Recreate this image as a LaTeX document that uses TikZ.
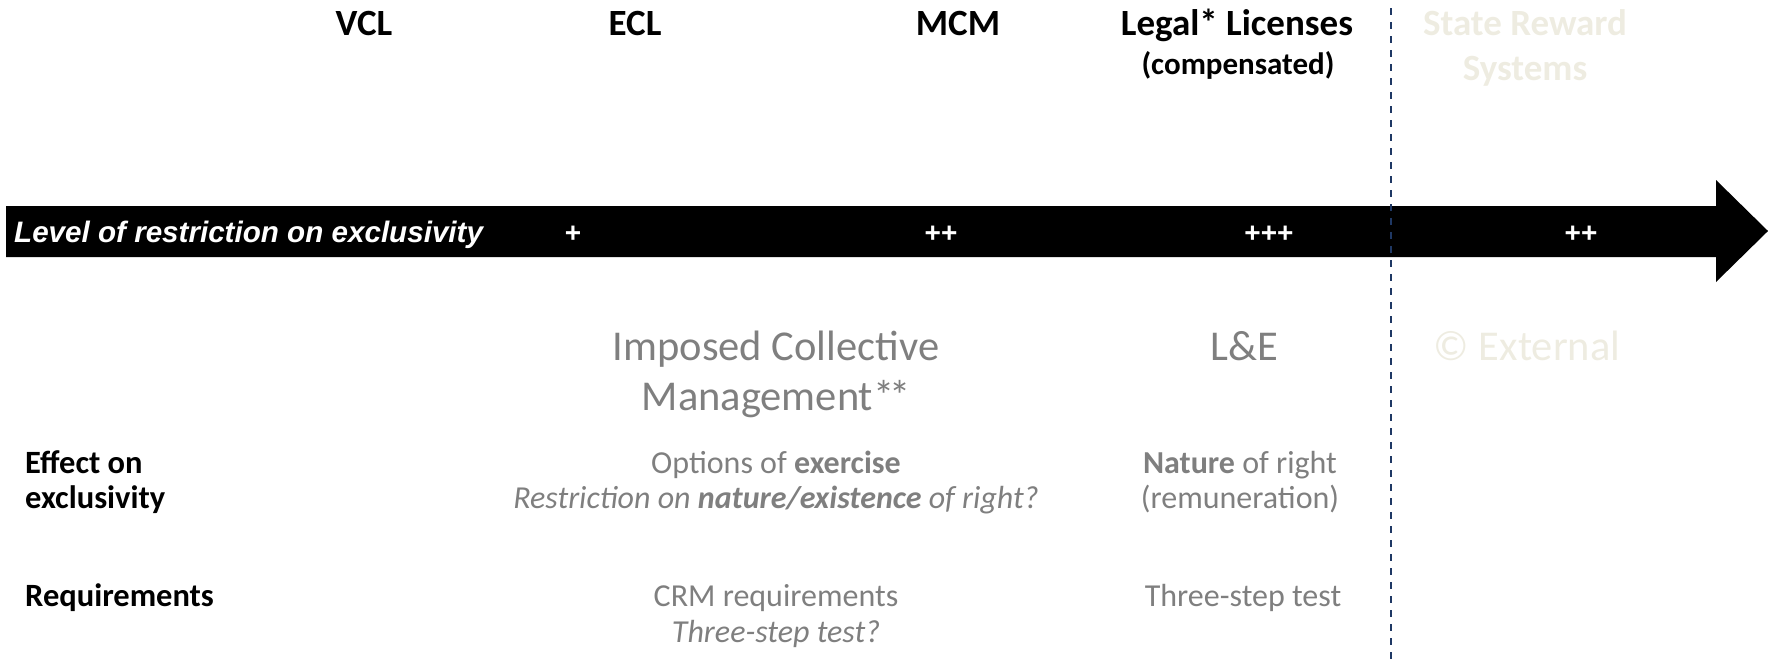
\documentclass[tikz,border=0pt]{standalone}
\usepackage{fontspec}
\setmainfont{Carlito}
\newfontfamily\arialfont{Liberation Sans}
\definecolor{txtgray}{RGB}{127,127,127}
\definecolor{faint}{RGB}{238,236,225}
\definecolor{dashblue}{RGB}{31,56,100}
\tikzset{
  lbl/.style={inner sep=0pt, anchor=base},
  head/.style={lbl, font=\fontsize{37}{44}\selectfont\bfseries, text=black},
  subhead/.style={lbl, font=\fontsize{31}{37}\selectfont\bfseries, text=black},
  fainthead/.style={lbl, font=\fontsize{37}{44}\selectfont\bfseries, text=faint},
  bigcat/.style={lbl, font=\fontsize{42.5}{50}\selectfont, text=txtgray},
  faintcat/.style={lbl, font=\fontsize{42.5}{50}\selectfont, text=faint},
  body/.style={lbl, font=\fontsize{32}{38}\selectfont, text=txtgray},
  rowlbl/.style={lbl, anchor=base west, font=\fontsize{32.5}{38}\selectfont\bfseries, text=black},
  plus/.style={lbl, font=\arialfont\fontsize{28}{34}\selectfont\bfseries, text=white},
  divider/.style={draw=dashblue, line width=2.5pt, dash pattern=on 7pt off 7pt}
}
\begin{document}
\begin{tikzpicture}[x=1pt,y=-1pt]
\useasboundingbox (0,0) rectangle (1768,659);
% arrow
\fill[black] (6,206) -- (1716,206) -- (1716,180) -- (1768,231) -- (1716,282) -- (1716,257) -- (6,257) -- cycle;
\node[plus, anchor=base west, font=\arialfont\fontsize{29.6}{35}\selectfont\bfseries\itshape] (level) at (14,242) {Level of restriction on exclusivity};
\node[plus] (p1) at (573,242) {+};
\node[plus] (p2) at (941,242) {++};
\node[plus] (p3) at (1269,242) {+++};
\node[plus] (p4) at (1581,242) {++};
% divider
\coordinate (dtop) at (1391,8);
\coordinate (dbot) at (1391,659);
\draw[divider] (dtop) -- (dbot);
% headers
\node[head] (vcl) at (364,35) {VCL};
\node[head] (ecl) at (635,35) {ECL};
\node[head] (mcm) at (958,35) {MCM};
\node[head] (legal) at (1237,35) {Legal* Licenses};
\node[subhead] (comp) at (1238,74) {(compensated)};
\node[fainthead] (srs1) at (1525,35) {State Reward};
\node[fainthead] (srs2) at (1525,80) {Systems};
% categories
\node[bigcat] (icm1) at (776,360) {Imposed Collective};
\node[bigcat] (icm2) at (776,410) {Management*\kern-0.12em*};
\node[bigcat] (le) at (1244,360) {L\&E};
\node[faintcat] (ext) at (1527,360) {© External};
% rows
\node[rowlbl] (eff1) at (25,473) {Effect on};
\node[rowlbl] (eff2) at (25,508) {exclusivity};
\node[rowlbl] (req) at (25,606) {Requirements};
\node[body] (opt1) at (776,473) {Options of \textbf{exercise}};
\node[body] (opt2) at (776,508) {\itshape Restriction on \textbf{nature/existence} of right?};
\node[body] (nat1) at (1240,473) {\textbf{Nature} of right};
\node[body] (nat2) at (1240,508) {(remuneration)};
\node[body] (crm1) at (776,606) {CRM requirements};
\node[body] (crm2) at (776,642) {\itshape Three-step test?};
\node[body] (tst) at (1243,606) {Three-step test};
\end{tikzpicture}
\end{document}
